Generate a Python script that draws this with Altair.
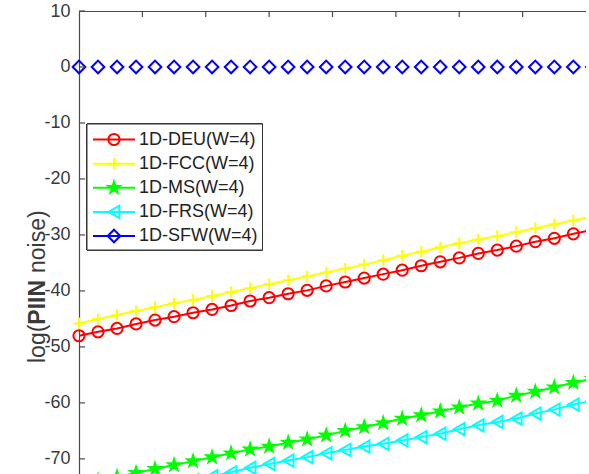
import altair as alt
import pandas as pd

# ---- data ----
x_vals = [0.0, 0.3, 0.6, 0.9, 1.2, 1.5, 1.8, 2.1, 2.4, 2.7, 3.0, 3.3, 3.6, 3.9,
          4.2, 4.5, 4.8, 5.1, 5.4, 5.7, 6.0, 6.3, 6.6, 6.9, 7.2, 7.5, 7.8, 8.1]

series_names = ["1D-DEU(W=4)", "1D-FCC(W=4)", "1D-MS(W=4)", "1D-FRS(W=4)", "1D-SFW(W=4)"]

deu = [-48.0, -47.3, -46.7, -45.9, -45.2, -44.6, -43.9, -43.3, -42.6, -41.8, -41.2,
       -40.5, -39.9, -39.1, -38.4, -37.7, -37.0, -36.3, -35.5, -34.8, -34.1, -33.3,
       -32.7, -32.0, -31.2, -30.6, -29.8, -29.1]
fcc = [-45.8, -45.0, -44.3, -43.6, -42.9, -42.2, -41.6, -40.9, -40.2, -39.5, -38.8,
       -38.1, -37.4, -36.7, -36.0, -35.3, -34.5, -33.7, -33.0, -32.2, -31.5, -30.8,
       -30.2, -29.5, -28.8, -28.1, -27.4, -26.7]
ms = [-74.6, -73.9, -73.2, -72.5, -71.8, -71.1, -70.4, -69.7, -69.0, -68.3, -67.8,
      -67.1, -66.5, -65.8, -65.0, -64.3, -63.6, -62.8, -62.2, -61.5, -60.8, -60.1,
      -59.6, -58.7, -58.0, -57.2, -56.4, -55.7]
frs = [-78.0, -77.3, -76.6, -75.9, -75.2, -74.5, -73.8, -73.1, -72.4, -71.6, -70.9,
       -70.3, -69.7, -69.0, -68.4, -67.8, -67.3, -66.7, -66.1, -65.5, -64.7, -64.0,
       -63.4, -62.8, -61.9, -61.2, -60.3, -59.6]
sfw = [0.0] * 28

y_ticks = [-70, -60, -50, -40, -30, -20, -10, 0, 10]
x_top_ticks = [1, 2, 3, 4, 5, 6, 7]

# ---- styling ----
colors = ["#ff0000", "#ffff00", "#00ff00", "#00ffff", "#0000ff"]
star = ("M0,-1L0.2245,-0.309L0.951,-0.309L0.363,0.118L0.588,0.809L0,0.382"
        "L-0.588,0.809L-0.363,0.118L-0.951,-0.309L-0.2245,-0.309Z")
shapes = ["circle", "M-1,0L1,0M0,-1L0,1", star, "triangle-left", "diamond"]
fills = ["transparent", "transparent", "#00ff00", "transparent", "transparent"]
sizes = [125, 160, 280, 150, 135]

AXIS_COLOR = "#4a4a4a"
TEXT_COLOR = "#3a3a3a"
FONT = "Liberation Sans"

rows = []
for name, vals in zip(series_names, [deu, fcc, ms, frs, sfw]):
    for xv, yv in zip(x_vals, vals):
        rows.append({"series": name, "x": xv, "y": yv})
df = pd.DataFrame(rows)
# the SFW series shows markers only (no connecting line) in the plot area
df_lines = df[df["series"] != "1D-SFW(W=4)"]
leg = pd.DataFrame({"series": series_names})
ytick_df = pd.DataFrame({"v": y_ticks})
xtick_df = pd.DataFrame({"v": x_top_ticks})

xscale = alt.Scale(domain=[0, 8], nice=False, zero=False)
yscale = alt.Scale(domain=[-72.7, 10], nice=False, zero=False)
color = alt.Color("series:N", scale=alt.Scale(domain=series_names, range=colors), legend=None)
shape = alt.Shape("series:N", scale=alt.Scale(domain=series_names, range=shapes), legend=None)
fill = alt.Fill("series:N", scale=alt.Scale(domain=series_names, range=fills), legend=None)
size = alt.Size("series:N", scale=alt.Scale(domain=series_names, range=sizes), legend=None)

lines = alt.Chart(df_lines).mark_line(strokeWidth=2, clip=True).encode(
    x=alt.X("x:Q", scale=xscale,
            axis=alt.Axis(orient="top", labels=False, ticks=False, grid=False, title=None,
                          domainColor=AXIS_COLOR, domainWidth=1.2)),
    y=alt.Y("y:Q", scale=yscale,
            axis=alt.Axis(values=y_ticks, ticks=False, tickSize=0, grid=False, title=None,
                          labelFont=FONT, labelFontSize=18, labelColor=TEXT_COLOR,
                          labelPadding=9, labelExpr="'' + datum.value",
                          domainColor=AXIS_COLOR, domainWidth=1.2)),
    color=color,
    detail="series:N",
)

points = alt.Chart(df).mark_point(strokeWidth=2, opacity=1).encode(
    x=alt.X("x:Q", scale=xscale),
    y=alt.Y("y:Q", scale=yscale, axis=None),
    color=color, shape=shape, fill=fill, size=size,
)

yticks = alt.Chart(ytick_df).mark_rule(color=AXIS_COLOR, strokeWidth=1.2).encode(
    y=alt.Y("v:Q", scale=yscale, axis=None),
    x=alt.value(0), x2=alt.value(6),
)
xticks = alt.Chart(xtick_df).mark_rule(color=AXIS_COLOR, strokeWidth=1.2).encode(
    x=alt.X("v:Q", scale=xscale),
    y=alt.value(0), y2=alt.value(6),
)

# legend (in plot-area coordinates)
leg_y = alt.Y("series:N", scale=alt.Scale(type="point", domain=series_names,
                                          range=[128.5, 225], padding=0), axis=None)
leg_box = alt.Chart(leg).mark_rect(fill="white", stroke="#333333", strokeWidth=1).encode(
    x=alt.value(8), x2=alt.value(183.5), y=alt.value(113), y2=alt.value(239),
)
leg_line = alt.Chart(leg).mark_rule(strokeWidth=2).encode(
    y=leg_y, x=alt.value(14), x2=alt.value(56), color=color,
)
leg_pt = alt.Chart(leg).mark_point(strokeWidth=2, opacity=1).encode(
    y=leg_y, x=alt.value(35), color=color, shape=shape, fill=fill, size=size,
)
leg_txt = alt.Chart(leg).mark_text(align="left", baseline="middle", font=FONT,
                                   fontSize=18, color="#222222").encode(
    y=leg_y, x=alt.value(60), text="series:N",
)

# y-axis title with bold "PIIN"
TF = 23
y_bottom = 363 - 11
w1 = 1.667 * TF
w2 = 1.945 * TF
gap = 0.30 * TF
title_x = -41
t1 = alt.Chart(leg.head(1)).mark_text(text="log(", angle=270, align="left", baseline="middle",
                                      font=FONT, fontSize=TF, color=TEXT_COLOR).encode(
    x=alt.value(title_x), y=alt.value(y_bottom))
t2 = alt.Chart(leg.head(1)).mark_text(text="PIIN", angle=270, align="left", baseline="middle",
                                      font=FONT, fontSize=TF, fontWeight="bold",
                                      color=TEXT_COLOR).encode(
    x=alt.value(title_x), y=alt.value(y_bottom - w1))
t3 = alt.Chart(leg.head(1)).mark_text(text="noise)", angle=270, align="left",
                                      baseline="middle", font=FONT, fontSize=TF,
                                      color=TEXT_COLOR).encode(
    x=alt.value(title_x), y=alt.value(y_bottom - w1 - w2 - gap))

chart = alt.layer(
    lines, points, yticks, xticks, leg_box, leg_line, leg_pt, leg_txt, t1, t2, t3
).resolve_scale(y="independent").properties(
    width=507, height=463,
    autosize=alt.AutoSizeParams(type="none"),
    padding={"left": 79, "top": 11, "right": 0, "bottom": 0},
    background="white",
).configure_view(stroke=None)

chart.save("out.html", embed_options={"renderer": "svg", "actions": False})
